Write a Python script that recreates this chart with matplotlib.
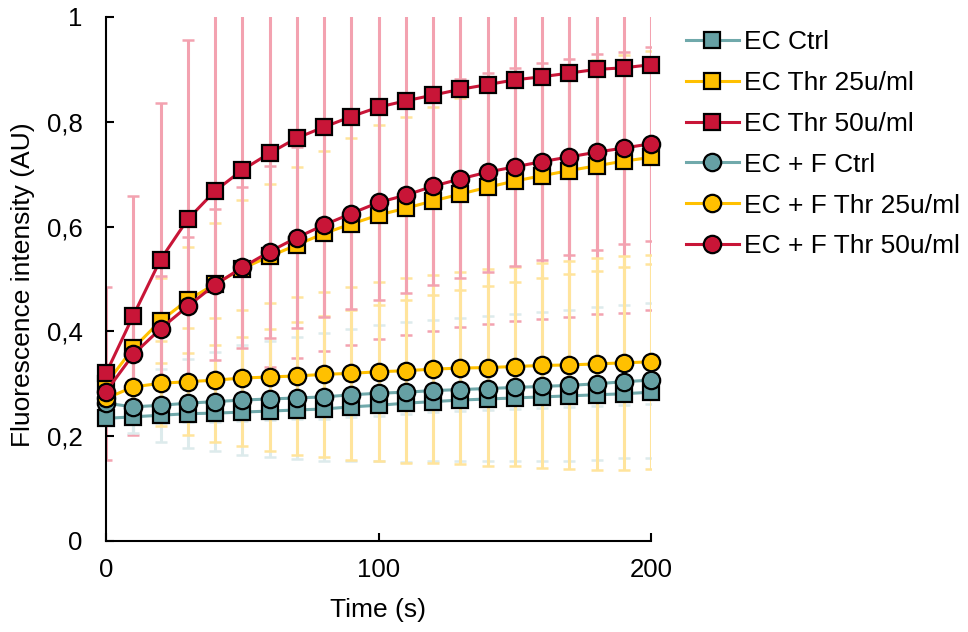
import matplotlib
matplotlib.use('Agg')
import matplotlib.pyplot as plt
from matplotlib.lines import Line2D

plt.rcParams['font.family'] = ['Liberation Sans', 'DejaVu Sans']

# time points (s)
time = [0, 10, 20, 30, 40, 50, 60, 70, 80, 90, 100,
        110, 120, 130, 140, 150, 160, 170, 180, 190, 200]

ec_ctrl = [0.234, 0.237, 0.240, 0.243, 0.244, 0.246, 0.248, 0.250, 0.252, 0.256, 0.259,
           0.263, 0.266, 0.269, 0.271, 0.273, 0.275, 0.277, 0.279, 0.281, 0.284]
ec_ctrl_err = [0.010, 0.012, 0.014, 0.015, 0.016, 0.017, 0.018, 0.018, 0.019, 0.019, 0.020,
               0.020, 0.020, 0.021, 0.021, 0.021, 0.022, 0.022, 0.022, 0.022, 0.023]

ec_thr25 = [0.300, 0.368, 0.420, 0.460, 0.490, 0.520, 0.543, 0.565, 0.587, 0.605, 0.622,
            0.635, 0.649, 0.662, 0.675, 0.687, 0.697, 0.707, 0.716, 0.725, 0.732]
ec_thr25_err = [0.030, 0.060, 0.081, 0.102, 0.116, 0.130, 0.139, 0.148, 0.158, 0.165, 0.172,
                0.175, 0.180, 0.183, 0.188, 0.192, 0.195, 0.198, 0.201, 0.203, 0.203]

ec_thr50 = [0.320, 0.430, 0.537, 0.614, 0.668, 0.708, 0.740, 0.769, 0.790, 0.810, 0.828,
            0.840, 0.851, 0.862, 0.871, 0.880, 0.886, 0.893, 0.900, 0.903, 0.909]
ec_thr50_err = [0.165, 0.228, 0.298, 0.342, 0.368, 0.390, 0.407, 0.420, 0.427, 0.436, 0.443,
                0.447, 0.450, 0.454, 0.457, 0.460, 0.462, 0.465, 0.467, 0.467, 0.469]

ecf_ctrl = [0.263, 0.256, 0.259, 0.263, 0.266, 0.269, 0.271, 0.273, 0.275, 0.279, 0.282,
            0.284, 0.287, 0.289, 0.291, 0.293, 0.295, 0.297, 0.300, 0.304, 0.307]
ecf_ctrl_err = [0.020, 0.050, 0.070, 0.085, 0.095, 0.105, 0.110, 0.117, 0.122, 0.126, 0.130,
                0.133, 0.135, 0.137, 0.138, 0.140, 0.142, 0.144, 0.146, 0.146, 0.148]

ecf_thr25 = [0.272, 0.294, 0.301, 0.304, 0.307, 0.311, 0.313, 0.315, 0.318, 0.320, 0.323,
             0.325, 0.328, 0.330, 0.331, 0.333, 0.335, 0.336, 0.338, 0.340, 0.342]
ecf_thr25_err = [0.030, 0.060, 0.081, 0.102, 0.118, 0.129, 0.141, 0.150, 0.158, 0.165, 0.171,
                 0.176, 0.180, 0.183, 0.188, 0.190, 0.196, 0.199, 0.202, 0.204, 0.204]

ecf_thr50 = [0.285, 0.356, 0.405, 0.448, 0.489, 0.522, 0.552, 0.579, 0.603, 0.625, 0.646,
             0.660, 0.677, 0.691, 0.704, 0.714, 0.724, 0.733, 0.742, 0.750, 0.758]
ecf_thr50_err = [0.050, 0.060, 0.100, 0.133, 0.144, 0.154, 0.164, 0.172, 0.176, 0.183, 0.187,
                 0.186, 0.189, 0.190, 0.190, 0.189, 0.188, 0.187, 0.187, 0.184, 0.185]

labels = ['EC Ctrl', 'EC Thr 25u/ml', 'EC Thr 50u/ml',
          'EC + F Ctrl', 'EC + F Thr 25u/ml', 'EC + F Thr 50u/ml']
yticks = [0, 0.2, 0.4, 0.6, 0.8, 1]
ytick_labels = ['0', '0,2', '0,4', '0,6', '0,8', '1']
xticks = [0, 100, 200]

teal = '#66A0A4'
teal_line = '#70A9AB'
yellow = '#FFC000'
red = '#C81537'
# light tints for the error bars (opaque, so overlaps don't darken)
err_teal = '#DDEBEC'
err_yellow = '#FFE49C'
err_red = '#F3A2B0'

series = [
    (ec_ctrl, ec_ctrl_err, 's', teal, teal_line, err_teal),
    (ec_thr25, ec_thr25_err, 's', yellow, yellow, err_yellow),
    (ec_thr50, ec_thr50_err, 's', red, red, err_red),
    (ecf_ctrl, ecf_ctrl_err, 'o', teal, teal_line, err_teal),
    (ecf_thr25, ecf_thr25_err, 'o', yellow, yellow, err_yellow),
    (ecf_thr50, ecf_thr50_err, 'o', red, red, err_red),
]

fig = plt.figure(figsize=(9.68, 6.32), dpi=100)
ax = fig.add_axes([106 / 968, 1 - 541 / 632, 545 / 968, 524 / 632])

# error bars first, under every line
for vals, err, mk, fc, lc, ec in series:
    ax.errorbar(time, vals, yerr=err, fmt='none', ecolor=ec,
                elinewidth=2.2, capsize=4.5, capthick=1.8, zorder=1)

handles = []
for (vals, err, mk, fc, lc, ec), lab in zip(series, labels):
    ms = 11.5 if mk == 's' else 12.5
    ax.plot(time, vals, color=lc, lw=2.2, marker=mk, ms=ms, mfc=fc, mec='black',
            mew=1.6, zorder=3, clip_on=False)
    handles.append(Line2D([], [], color=lc, lw=2.2, marker=mk, ms=ms, mfc=fc,
                          mec='black', mew=1.6, label=lab))

ax.set_xlim(0, 200)
ax.set_ylim(0, 1)
ax.set_xticks(xticks)
ax.set_xticklabels([str(t) for t in xticks])
ax.set_yticks(yticks)
ax.set_yticklabels(ytick_labels)
ax.tick_params(axis='both', direction='in', length=6, width=1.5, labelsize=18.5)
ax.tick_params(axis='x', pad=12)
ax.tick_params(axis='y', pad=17)
for s in ['top', 'right']:
    ax.spines[s].set_visible(False)
for s in ['left', 'bottom']:
    ax.spines[s].set_linewidth(1.5)

ax.set_xlabel('Time (s)', fontsize=19)
ax.set_ylabel('Fluorescence intensity (AU)', fontsize=19)
ax.xaxis.set_label_coords(0.5, -0.1317)
ax.xaxis.label.set_verticalalignment('center')
ax.yaxis.set_label_coords(-0.152, 0.49)
ax.yaxis.label.set_verticalalignment('center')

fig.legend(handles=handles, loc='upper left', bbox_to_anchor=(686 / 968, 1 - 30 / 632),
           frameon=False, fontsize=19, handlelength=2.0, handletextpad=0.2,
           borderpad=0, borderaxespad=0, labelspacing=0.64)

fig.savefig('out.png', dpi=100)
